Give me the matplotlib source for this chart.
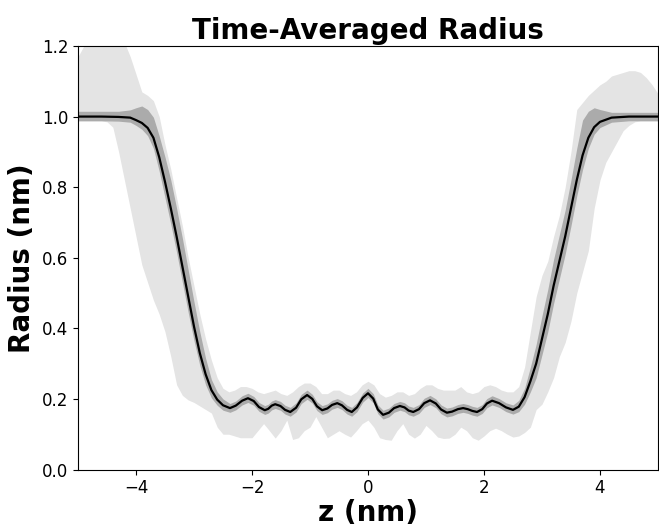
import numpy as np
import matplotlib
matplotlib.use("Agg")
from matplotlib import pyplot as plt

# mean radius profile (nm) along z (nm)
z_mean = [-5.0, -4.6, -4.3, -4.1, -4.0, -3.9, -3.8, -3.7, -3.6, -3.5,
          -3.4, -3.3, -3.2, -3.1, -3.0, -2.9, -2.8, -2.7, -2.6, -2.5,
          -2.38, -2.28, -2.17, -2.07, -1.97, -1.88, -1.78, -1.72, -1.66, -1.60,
          -1.51, -1.43, -1.34, -1.24, -1.15, -1.05, -0.96, -0.88, -0.79, -0.70,
          -0.62, -0.53, -0.45, -0.36, -0.28, -0.19, -0.09, 0.0, 0.09, 0.17,
          0.26, 0.36, 0.45, 0.55, 0.63, 0.70, 0.78, 0.88, 0.97, 1.07,
          1.17, 1.26, 1.36, 1.45, 1.55, 1.64, 1.72, 1.80, 1.88, 1.97,
          2.05, 2.14, 2.26, 2.38, 2.5,
          2.6, 2.7, 2.8, 2.9, 3.0, 3.1, 3.2, 3.3, 3.4, 3.5,
          3.6, 3.7, 3.8, 3.9, 4.0, 4.2, 4.5, 5.0]
r_mean = [1.0, 1.0, 0.999, 0.997, 0.99, 0.982, 0.968, 0.94, 0.885, 0.815,
          0.74, 0.66, 0.575, 0.49, 0.405, 0.33, 0.27, 0.225, 0.198, 0.182,
          0.174, 0.181, 0.195, 0.202, 0.194, 0.177, 0.168, 0.172, 0.181, 0.185,
          0.180, 0.169, 0.163, 0.175, 0.199, 0.211, 0.200, 0.179, 0.168, 0.173,
          0.183, 0.188, 0.182, 0.169, 0.163, 0.176, 0.203, 0.216, 0.201, 0.170,
          0.155, 0.161, 0.174, 0.180, 0.176, 0.167, 0.163, 0.171, 0.188, 0.196,
          0.187, 0.170, 0.161, 0.164, 0.171, 0.174, 0.171, 0.166, 0.163, 0.171,
          0.187, 0.195, 0.188, 0.176, 0.169,
          0.178, 0.205, 0.25, 0.30, 0.37, 0.44, 0.52, 0.59, 0.66, 0.74,
          0.82, 0.89, 0.94, 0.97, 0.985, 0.997, 1.0, 1.0]
# standard-deviation band: distance above / below the mean
sd_up = [0.015, 0.015, 0.016, 0.022, 0.035, 0.048, 0.052, 0.058, 0.06, 0.07,
         0.08, 0.08, 0.08, 0.075, 0.07, 0.06, 0.045, 0.03, 0.022, 0.018,
         0.013, 0.013, 0.014, 0.014, 0.013, 0.013, 0.013, 0.013, 0.013, 0.013,
         0.013, 0.013, 0.013, 0.014, 0.014, 0.014, 0.013, 0.013, 0.013, 0.013,
         0.013, 0.013, 0.013, 0.013, 0.013, 0.014, 0.014, 0.014, 0.014, 0.013,
         0.013, 0.013, 0.013, 0.013, 0.013, 0.013, 0.013, 0.013, 0.014, 0.014,
         0.013, 0.013, 0.013, 0.013, 0.013, 0.013, 0.013, 0.013, 0.013, 0.013,
         0.014, 0.014, 0.013, 0.013, 0.014,
         0.018, 0.025, 0.04, 0.055, 0.065, 0.07, 0.075, 0.075, 0.075, 0.08,
         0.09, 0.1, 0.075, 0.055, 0.035, 0.015, 0.012, 0.012]
sd_down = [0.012, 0.012, 0.012, 0.013, 0.015, 0.018, 0.022, 0.03, 0.04, 0.045,
           0.045, 0.045, 0.045, 0.045, 0.04, 0.035, 0.03, 0.022, 0.016, 0.014,
           0.012, 0.012, 0.012, 0.012, 0.012, 0.012, 0.012, 0.012, 0.012, 0.012,
           0.012, 0.012, 0.012, 0.012, 0.012, 0.012, 0.012, 0.012, 0.012, 0.012,
           0.012, 0.012, 0.012, 0.012, 0.012, 0.012, 0.012, 0.012, 0.012, 0.012,
           0.012, 0.012, 0.012, 0.012, 0.012, 0.012, 0.012, 0.012, 0.012, 0.012,
           0.012, 0.012, 0.012, 0.012, 0.012, 0.012, 0.012, 0.012, 0.012, 0.012,
           0.012, 0.012, 0.012, 0.012, 0.012,
           0.014, 0.02, 0.03, 0.04, 0.045, 0.05, 0.05, 0.05, 0.05, 0.05,
           0.045, 0.04, 0.03, 0.02, 0.016, 0.013, 0.012, 0.012]

# min / max envelope, sampled every 0.1 nm from -5 to 5
z_env = np.linspace(-5.0, 5.0, 101)
r_max = [1.17, 1.2, 1.23, 1.25, 1.26, 1.26, 1.25, 1.24, 1.21, 1.17,
         1.12, 1.07, 1.06, 1.045, 1.0, 0.92, 0.85, 0.77, 0.69, 0.6,
         0.52, 0.44, 0.37, 0.31, 0.26, 0.23, 0.22, 0.225, 0.235, 0.235,
         0.23, 0.22, 0.215, 0.22, 0.225, 0.215, 0.21, 0.22, 0.235, 0.245,
         0.245, 0.235, 0.215, 0.215, 0.225, 0.225, 0.215, 0.21, 0.22, 0.24,
         0.25, 0.24, 0.215, 0.205, 0.21, 0.22, 0.22, 0.21, 0.215, 0.23,
         0.24, 0.24, 0.23, 0.225, 0.225, 0.225, 0.235, 0.22, 0.215, 0.22,
         0.235, 0.24, 0.235, 0.225, 0.22, 0.22, 0.235, 0.29, 0.39, 0.49,
         0.55, 0.59, 0.66, 0.72, 0.8, 0.9, 1.02, 1.04, 1.06, 1.075,
         1.09, 1.1, 1.115, 1.12, 1.125, 1.13, 1.13, 1.125, 1.11, 1.09,
         1.065]
r_min = [0.988, 0.988, 0.988, 0.988, 0.988, 0.985, 0.97, 0.9, 0.82, 0.74,
         0.66, 0.58, 0.53, 0.48, 0.44, 0.39, 0.32, 0.24, 0.21, 0.197,
         0.19, 0.18, 0.17, 0.16, 0.12, 0.1, 0.1, 0.095, 0.09, 0.09,
         0.09, 0.11, 0.13, 0.11, 0.089, 0.11, 0.14, 0.085, 0.09, 0.11,
         0.12, 0.15, 0.12, 0.09, 0.1, 0.11, 0.1, 0.092, 0.11, 0.13,
         0.14, 0.12, 0.09, 0.085, 0.083, 0.11, 0.13, 0.1, 0.089, 0.1,
         0.125, 0.11, 0.092, 0.088, 0.089, 0.1, 0.12, 0.11, 0.09, 0.083,
         0.095, 0.11, 0.117, 0.11, 0.1, 0.092, 0.095, 0.105, 0.12, 0.17,
         0.185, 0.22, 0.26, 0.32, 0.36, 0.42, 0.5, 0.56, 0.62, 0.74,
         0.82, 0.87, 0.9, 0.93, 0.96, 0.975, 0.985, 0.988, 0.988, 0.988,
         0.988]

z_m = np.array(z_mean)
r_m = np.array(r_mean)

fig = plt.figure(figsize=(6.59, 5.31), dpi=100)
ax = fig.add_axes([0.1184, 0.1158, 0.88, 0.7976])

ax.fill_between(z_env, r_min, r_max, color='#e4e4e4', linewidth=0)
ax.fill_between(z_m, r_m - np.array(sd_down), r_m + np.array(sd_up),
                color='#ababab', linewidth=0)
ax.plot(z_m, r_m, color='black', linewidth=1.6, solid_joinstyle='round')

ax.set_xlim(-5, 5)
ax.set_ylim(0, 1.2)
ax.set_xticks([-4, -2, 0, 2, 4])
ax.set_yticks([0.0, 0.2, 0.4, 0.6, 0.8, 1.0, 1.2])
ax.tick_params(labelsize=12)
ax.set_title('Time-Averaged Radius', fontsize=20, fontweight='bold', pad=5)
ax.set_xlabel('z (nm)', fontsize=20, fontweight='bold', labelpad=1)
ax.set_ylabel('Radius (nm)', fontsize=20, fontweight='bold', labelpad=4)

fig.savefig('out.png', dpi=100)
